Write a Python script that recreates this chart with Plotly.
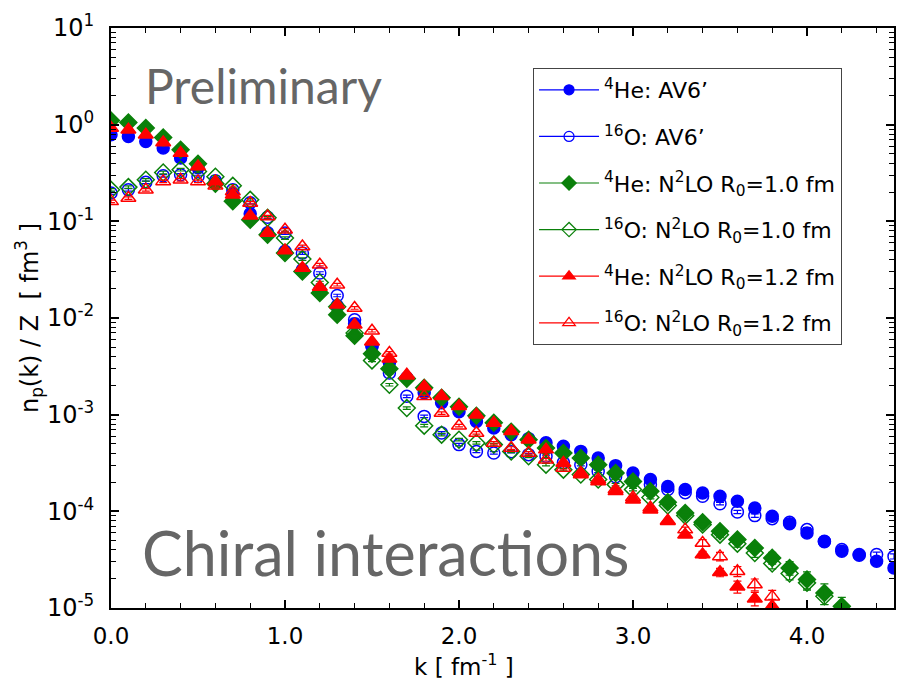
import plotly.graph_objects as go

# ---------------- data ----------------
k_he4_av6 = [round(0.1 * i, 1) for i in range(46)]
he4_av6 = [0.786, 0.755, 0.670, 0.573, 0.452, 0.358, 0.251, 0.193, 0.120, 0.0762,
           0.0491, 0.0316, 0.0196, 0.0134, 0.00873, 0.00517, 0.00345, 0.00241, 0.00169, 0.00133,
           0.00107, 0.000852, 0.000729, 0.000621, 0.000565, 0.000513, 0.000470, 0.000417, 0.000357, 0.000297,
           0.000249, 0.000213, 0.000181, 0.000168, 0.000155, 0.000143, 0.000127, 0.000108, 0.0000888, 0.0000746,
           0.0000598, 0.0000486, 0.0000386, 0.0000351, 0.0000304, 0.0000260]

k_o16_av6 = [round(0.1 * i, 1) for i in range(46)]
o16_av6 = [0.196, 0.212, 0.253, 0.296, 0.303, 0.291, 0.263, 0.212, 0.156, 0.110,
           0.0757, 0.0470, 0.0292, 0.0171, 0.0096, 0.00508, 0.00270, 0.00155, 0.00096, 0.000647,
           0.000490, 0.000417, 0.000402, 0.000414, 0.000386, 0.000371, 0.000319, 0.000304, 0.000259, 0.000228,
           0.000208, 0.000189, 0.000168, 0.000156, 0.000143, 0.000120, 0.0000986, 0.0000903, 0.0000840, 0.0000769,
           0.0000647, 0.0000490, 0.0000402, 0.0000357, 0.0000357, 0.0000342]

k_he4_n2lo10 = [round(0.1 * i, 1) for i in range(43)]
he4_n2lo10 = [1.105, 1.054, 0.922, 0.737, 0.550, 0.394, 0.245, 0.161, 0.104, 0.0727,
              0.0470, 0.0303, 0.0181, 0.0108, 0.00656, 0.00427, 0.00299, 0.00236, 0.00190, 0.00150,
              0.00121, 0.000977, 0.000827, 0.000667, 0.000551, 0.000452, 0.000402, 0.000357, 0.000304, 0.000249,
              0.000204, 0.000161, 0.000124, 0.0000963, 0.0000769, 0.0000621, 0.0000510, 0.0000418, 0.0000330, 0.0000260,
              0.0000197, 0.0000143, 0.0000104]

k_o16_n2lo10 = [round(0.1 * i, 1) for i in range(42)]
o16_n2lo10 = [0.212, 0.226, 0.269, 0.320, 0.342, 0.328, 0.289, 0.233, 0.167, 0.109,
              0.0672, 0.0407, 0.0233, 0.0131, 0.00700, 0.00364, 0.00204, 0.00117, 0.000769, 0.000621,
              0.000551, 0.000510, 0.000490, 0.000417, 0.000371, 0.000304, 0.000270, 0.000240, 0.000213, 0.000189,
              0.000168, 0.000139, 0.000115, 0.0000903, 0.0000729, 0.0000574, 0.0000463, 0.0000371, 0.0000288, 0.0000227,
              0.0000182, 0.0000132]

k_he4_n2lo12 = [round(0.1 * i, 1) for i in range(39)]
he4_n2lo12 = [0.922, 0.886, 0.786, 0.655, 0.508, 0.370, 0.259, 0.188, 0.114, 0.0757,
              0.0500, 0.0329, 0.0209, 0.0137, 0.00852, 0.00569, 0.00379, 0.00259, 0.00196, 0.00155,
              0.00122, 0.00100, 0.000820, 0.000672, 0.000551, 0.000435, 0.000317, 0.000249, 0.000204, 0.000161,
              0.000132, 0.000104, 0.0000788, 0.0000574, 0.0000357, 0.0000234, 0.0000166, 0.0000125, 0.0000104]

k_o16_n2lo12 = [round(0.1 * i, 1) for i in range(39)]
o16_n2lo12 = [0.161, 0.174, 0.212, 0.259, 0.269, 0.259, 0.233, 0.204, 0.155, 0.112,
              0.0818, 0.0550, 0.0356, 0.0221, 0.0127, 0.00739, 0.00435, 0.00253, 0.00155, 0.00104,
              0.000769, 0.000647, 0.000510, 0.000452, 0.000402, 0.000342, 0.000281, 0.000240, 0.000213, 0.000168,
              0.000139, 0.000109, 0.0000801, 0.0000647, 0.0000471, 0.0000342, 0.0000240, 0.0000175, 0.0000131]

# relative statistical errors (percent)
err_he4_av6 = [2] * 40 + [3, 3, 4, 4, 4, 4]
err_o16_av6 = [3] * 36 + [4, 4, 5, 5, 5, 5, 6, 6, 6, 6]
err_he4_n2lo10 = [2] * 35 + [5, 8, 10, 14, 16, 20, 24, 24]
err_o16_n2lo10 = [3] * 35 + [6, 8, 10, 12, 14, 16, 18]
err_he4_n2lo12 = [2] * 33 + [6, 8, 10, 14, 16, 18]
err_o16_n2lo12 = [3] * 33 + [6, 8, 10, 12, 14, 16]

names = ["<sup>4</sup>He: AV6\u2019",
         "<sup>16</sup>O: AV6\u2019",
         "<sup>4</sup>He: N<sup>2</sup>LO R<sub>0</sub>=1.0 fm",
         "<sup>16</sup>O: N<sup>2</sup>LO R<sub>0</sub>=1.0 fm",
         "<sup>4</sup>He: N<sup>2</sup>LO R<sub>0</sub>=1.2 fm",
         "<sup>16</sup>O: N<sup>2</sup>LO R<sub>0</sub>=1.2 fm"]

ytick_vals = [1e1, 1e0, 1e-1, 1e-2, 1e-3, 1e-4, 1e-5]
ytick_text = ["10<sup>1</sup>", "10<sup>0</sup>", "10<sup>-1</sup>", "10<sup>-2</sup>",
              "10<sup>-3</sup>", "10<sup>-4</sup>", "10<sup>-5</sup>"]
xtick_vals = [0, 1, 2, 3, 4]
xtick_text = ["0.0", "1.0", "2.0", "3.0", "4.0"]

# ---------------- styles ----------------
BLUE = "#0000ff"
GREEN = "#0a800a"
RED = "#ff0000"

series = [
    (k_he4_av6, he4_av6, err_he4_av6, BLUE, "circle", 12),
    (k_o16_av6, o16_av6, err_o16_av6, BLUE, "circle-open", 12),
    (k_he4_n2lo10, he4_n2lo10, err_he4_n2lo10, GREEN, "diamond", 13),
    (k_o16_n2lo10, o16_n2lo10, err_o16_n2lo10, GREEN, "diamond-open", 13),
    (k_he4_n2lo12, he4_n2lo12, err_he4_n2lo12, RED, "triangle-up", 13),
    (k_o16_n2lo12, o16_n2lo12, err_o16_n2lo12, RED, "triangle-up-open", 13),
]

fig = go.Figure()
for (kx, vy, er, col, sym, sz) in series:
    fig.add_trace(go.Scatter(
        x=kx, y=vy, mode="markers", showlegend=False,
        marker=dict(symbol=sym, size=sz, color=col, line=dict(width=1.5, color=col)),
        error_y=dict(type="data", array=[v * e / 100 for v, e in zip(vy, er)],
                     color=col, thickness=1.2, width=4, visible=True),
    ))

for (kx, vy, er, col, sym, sz), nm in zip(series, names):
    fig.add_trace(go.Scatter(
        x=[None], y=[None], mode="lines+markers", name=nm, legendgroup=nm,
        line=dict(color=col, width=1.2),
        marker=dict(symbol=sym, size=sz - 2, color=col, line=dict(width=1.2, color=col)),
    ))

FONT = "DejaVu Sans"

fig.update_layout(
    width=899, height=685,
    margin=dict(l=111, r=3, t=28, b=77),
    paper_bgcolor="white", plot_bgcolor="white",
    font=dict(family=FONT, size=21, color="black"),
    legend=dict(
        x=0.539, y=0.931, xanchor="left", yanchor="top",
        bordercolor="#444444", borderwidth=1, bgcolor="white",
        font=dict(family=FONT, size=22, color="black"),
        tracegroupgap=15, itemwidth=60,
    ),
    xaxis=dict(
        range=[0, 4.5], showgrid=False, zeroline=False,
        showline=True, linecolor="black", linewidth=2, mirror="allticks",
        ticks="inside", ticklen=8, tickwidth=1.5, tickcolor="black",
        tickvals=xtick_vals, ticktext=xtick_text, ticklabelstandoff=6,
        tickfont=dict(family=FONT, size=23),
        minor=dict(ticks="inside", ticklen=5, dtick=0.2, tick0=0, tickcolor="black", tickwidth=1),
    ),
    yaxis=dict(
        type="log", range=[-5, 1], showgrid=False, zeroline=False,
        showline=True, linecolor="black", linewidth=2, mirror="allticks",
        ticks="inside", ticklen=8, tickwidth=1.5, tickcolor="black",
        tickvals=ytick_vals, ticktext=ytick_text, ticklabelstandoff=10,
        tickfont=dict(family=FONT, size=24),
        minor=dict(ticks="inside", ticklen=5, dtick="D1", tickcolor="black", tickwidth=1),
        title=dict(text="n<sub>p</sub>(k) / Z  [ fm<sup>3</sup> ]", font=dict(family=FONT, size=24), standoff=2),
    ),
    annotations=[
        dict(text="k [ fm<sup>-1</sup> ]", xref="paper", yref="paper", x=0.451, y=-0.098,
             xanchor="center", yanchor="middle", showarrow=False,
             font=dict(family=FONT, size=23, color="black")),
        dict(text="Preliminary", xref="paper", yref="paper", x=0.195, y=0.90,
             xanchor="center", yanchor="middle",
             showarrow=False, font=dict(family="Lato", size=48, color="#666666")),
        dict(text="Chiral interac\u200ctions", xref="paper", yref="paper", x=0.350, y=0.095,
             xanchor="center", yanchor="middle",
             showarrow=False, font=dict(family="Lato", size=61, color="#666666")),
    ],
)

fig.write_html("out.html")
